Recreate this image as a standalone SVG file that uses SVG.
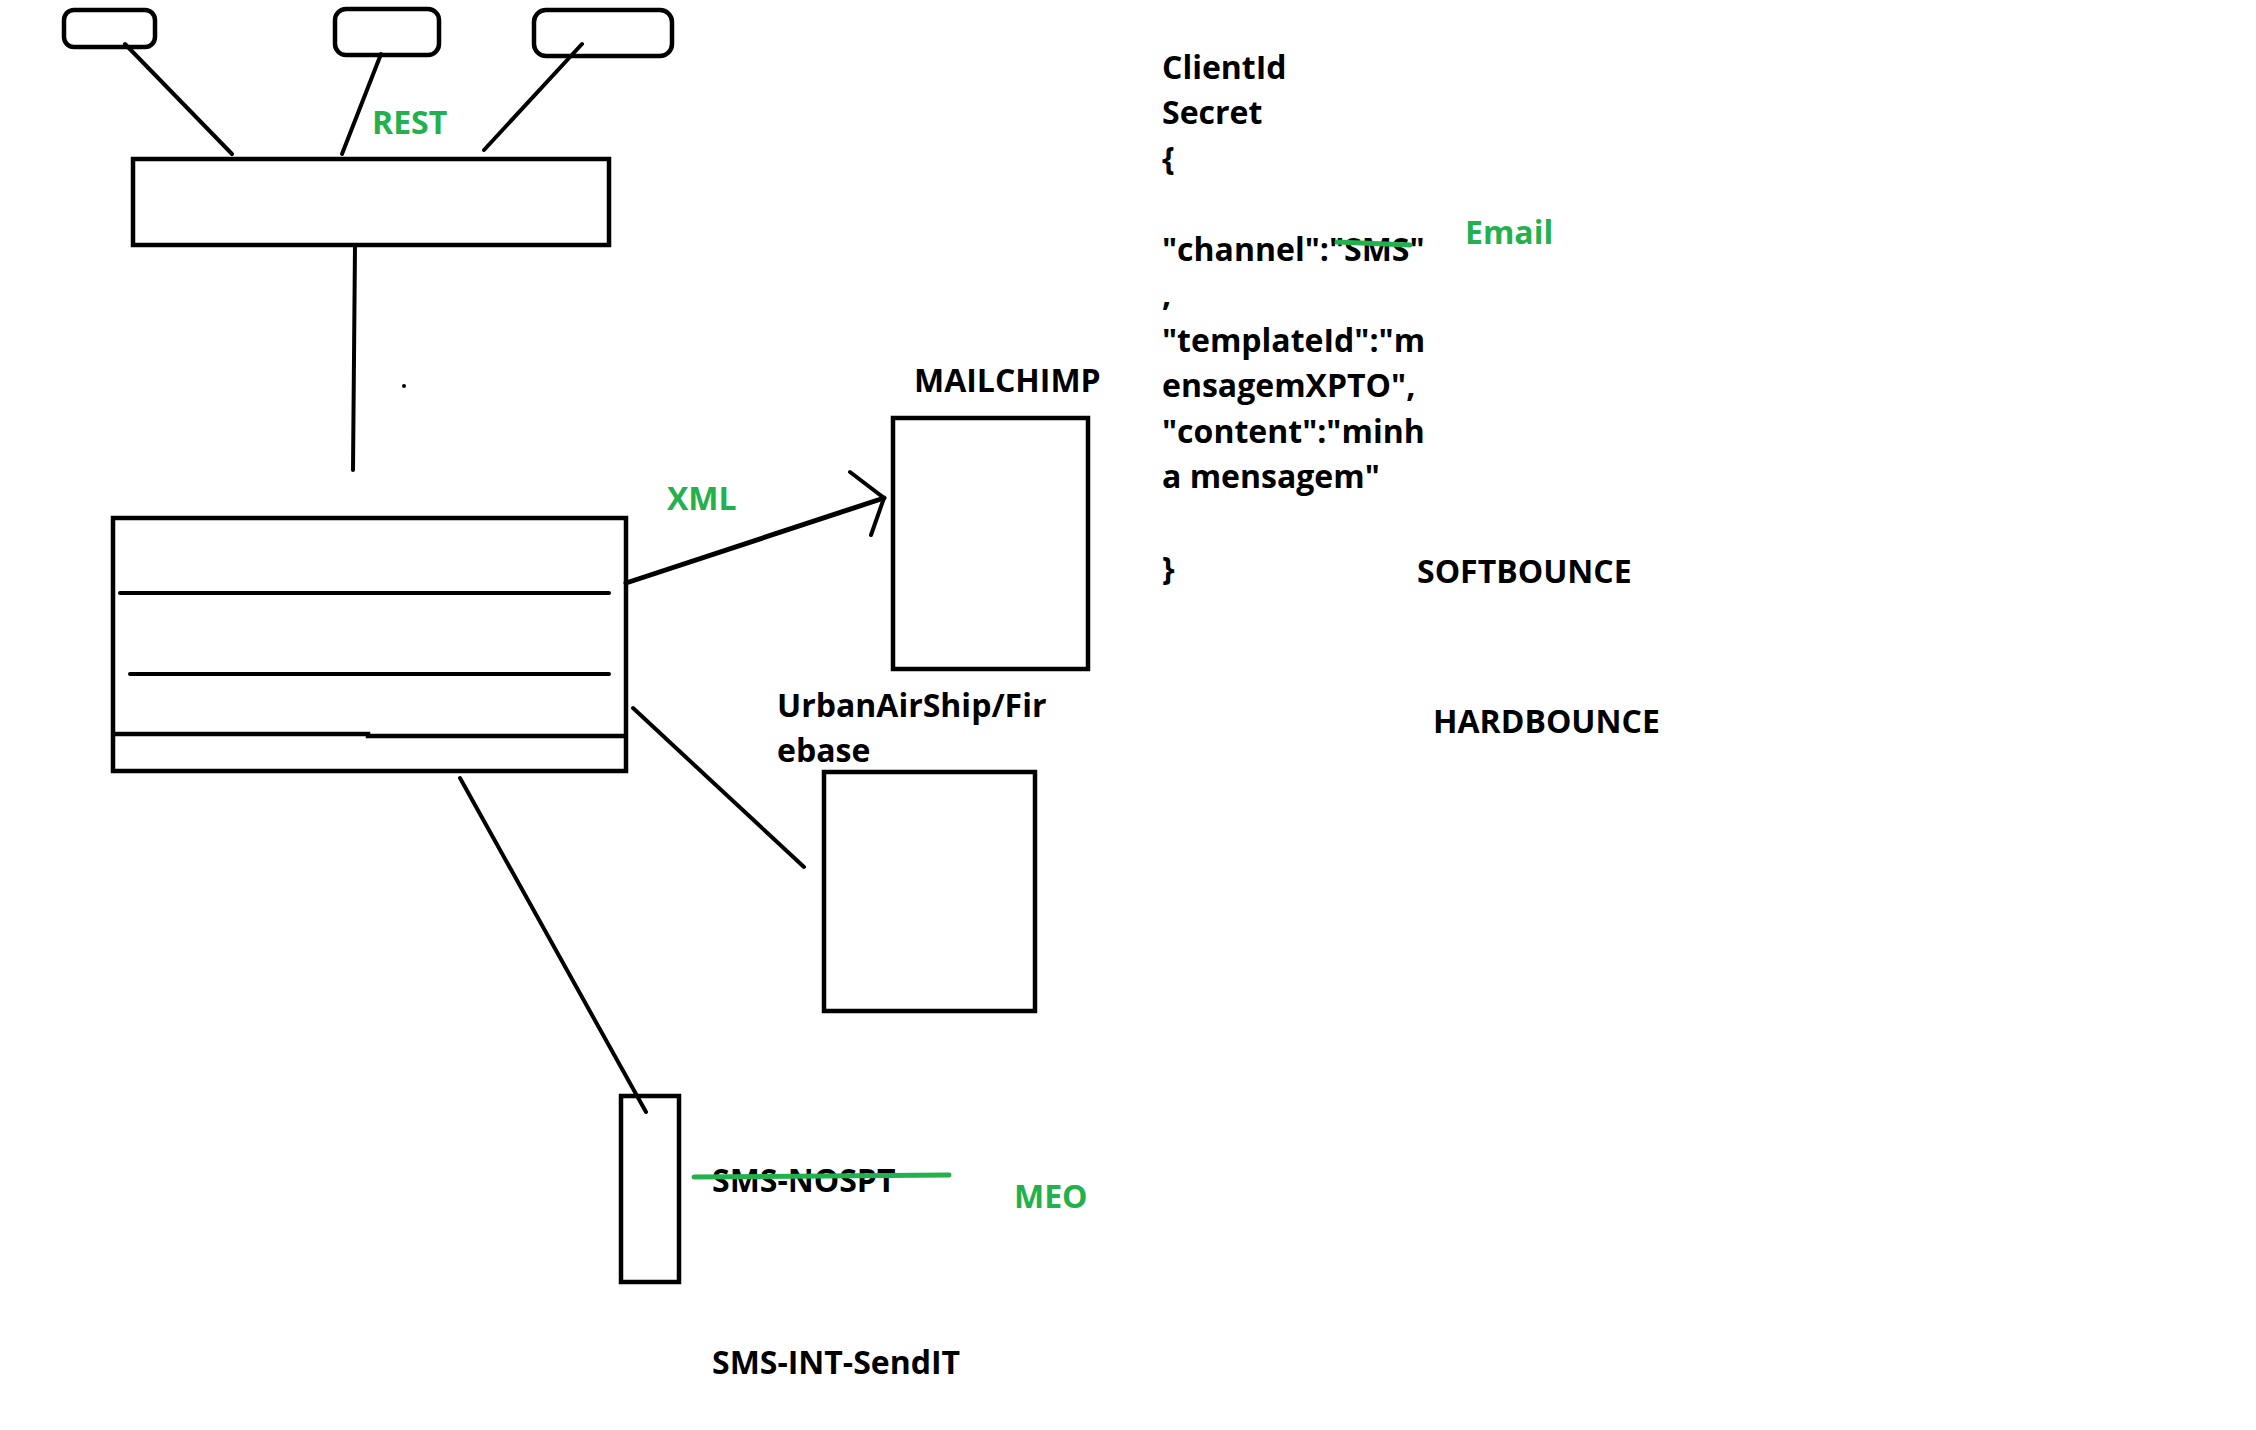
<svg xmlns="http://www.w3.org/2000/svg" width="2256" height="1430" viewBox="0 0 2256 1430">
<style>
.box{fill:none;stroke:#000;stroke-width:4.5}
.ln{fill:none;stroke:#000;stroke-width:4;stroke-linecap:round}
.t{font-family:"Open Sans","Liberation Sans",sans-serif;font-weight:700;font-size:32px;fill:#000}
.g{fill:#22b14c}
.strike{stroke:#22b14c;stroke-width:5;stroke-linecap:round}
</style>
<rect width="2256" height="1430" fill="#fff"/>
<g id="client1"><rect class="box" x="64" y="10" width="91" height="37" rx="10"/></g>
<g id="client2"><rect class="box" x="335" y="9" width="104" height="46" rx="11"/></g>
<g id="client3"><rect class="box" x="534" y="10" width="138" height="46" rx="12"/></g>
<g id="gateway"><rect class="box" x="133" y="159" width="476" height="86"/></g>
<g id="core">
<rect class="box" x="113" y="518" width="513" height="253"/>
<line class="ln" x1="120" y1="593" x2="609" y2="593"/>
<line class="ln" x1="130" y1="674" x2="609" y2="674"/>
<polyline class="box" points="113,734 368,734 368,736 626,736"/>
</g>
<g id="mailchimp"><rect class="box" x="893" y="418" width="195" height="251"/></g>
<g id="firebase"><rect class="box" x="824" y="772" width="211" height="239"/></g>
<g id="sms"><rect class="box" x="621" y="1096" width="58" height="186"/></g>
<g id="connectors">
<line class="ln" x1="125" y1="44" x2="232" y2="154"/>
<line class="ln" x1="381" y1="54" x2="342" y2="154"/>
<line class="ln" x1="582" y1="44" x2="484" y2="150"/>
<line class="ln" x1="355" y1="245" x2="353" y2="470"/>
<line class="ln" x1="626" y1="583" x2="884" y2="498" style="stroke-width:5"/>
<polyline class="ln" points="850,472 884,498 871,535"/>
<line class="ln" x1="633" y1="708" x2="804" y2="867"/>
<line class="ln" x1="460" y1="778" x2="646" y2="1112"/>
<circle cx="404" cy="386" r="2" fill="#000"/>
</g>
<g id="labels">
<text class="t g" x="372" y="134">REST</text>
<text class="t g" x="667" y="510">XML</text>
<text class="t" x="914" y="392">MAILCHIMP</text>
<text class="t" x="777" y="717">UrbanAirShip/Fir</text>
<text class="t" x="777" y="762">ebase</text>
<text class="t" x="712" y="1192">SMS-NOSPT</text>
<line class="strike" x1="694" y1="1177" x2="949" y2="1175"/>
<text class="t g" x="1014" y="1208">MEO</text>
<text class="t" x="712" y="1374">SMS-INT-SendIT</text>
<text class="t" x="1162" y="79">ClientId</text>
<text class="t" x="1162" y="124">Secret</text>
<text class="t" x="1162" y="170">{</text>
<text class="t" x="1162" y="261">"channel":"SMS"</text>
<line class="strike" x1="1337" y1="242" x2="1410" y2="245"/>
<text class="t" x="1162" y="306">,</text>
<text class="t" x="1162" y="352">"templateId":"m</text>
<text class="t" x="1162" y="397">ensagemXPTO",</text>
<text class="t" x="1162" y="443">"content":"minh</text>
<text class="t" x="1162" y="488">a mensagem"</text>
<text class="t" x="1162" y="580">}</text>
<text class="t g" x="1465" y="244">Email</text>
<text class="t" x="1417" y="583">SOFTBOUNCE</text>
<text class="t" x="1433" y="733">HARDBOUNCE</text>
</g>
</svg>
